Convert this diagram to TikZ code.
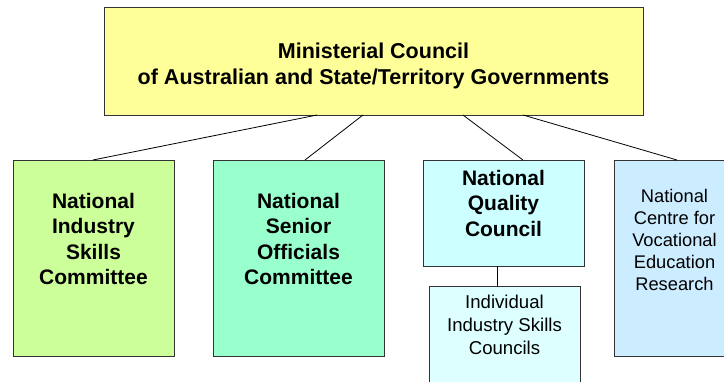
\documentclass[tikz,border=0pt]{standalone}
\usepackage{fontspec}
\setmainfont{Liberation Sans}
\begin{document}
\begin{tikzpicture}[x=1pt,y=-1pt,
  orgbox/.style={draw=black!80,line width=0.9pt},
  link/.style={draw=black,line width=0.8pt},
  toptxt/.style={font=\fontsize{21.5}{26}\selectfont\bfseries,align=center,anchor=north,inner sep=0pt},
  boldtxt/.style={font=\fontsize{21}{25.5}\selectfont\bfseries,align=center,anchor=north,inner sep=0pt},
  regtxt/.style={font=\fontsize{18.3}{22}\selectfont,align=center,anchor=north,inner sep=0pt},
  smalltxt/.style={font=\fontsize{18.6}{23}\selectfont,align=center,anchor=north,inner sep=0pt}]
\definecolor{cyell}{HTML}{FFFF99}
\definecolor{cgreen}{HTML}{CCFF99}
\definecolor{cmint}{HTML}{99FFCC}
\definecolor{ccyan}{HTML}{CCFFFF}
\definecolor{clcyan}{HTML}{DDFFFF}
\definecolor{cblue}{HTML}{CCECFF}
\useasboundingbox (0,0) rectangle (724,381);
% boxes
\draw[orgbox,fill=cyell] (104,7) rectangle (643,115);
\draw[orgbox,fill=cgreen] (13,160) rectangle (174,356);
\draw[orgbox,fill=cmint] (213,160) rectangle (384,356);
\draw[orgbox,fill=ccyan] (423,160) rectangle (584,266);
\draw[orgbox,fill=clcyan] (429,286) rectangle (580,390);
\draw[orgbox,fill=cblue] (614,160) rectangle (740,356);
% anchor coordinates
\coordinate (t1) at (317,115); \coordinate (b1) at (93,160);
\coordinate (t2) at (363,115); \coordinate (b2) at (305,160);
\coordinate (t3) at (463,115); \coordinate (b3) at (523,160);
\coordinate (t4) at (523,115); \coordinate (b4) at (677,160);
\coordinate (q1) at (497,266); \coordinate (q2) at (497,286);
\draw[link] (t1) -- (b1);
\draw[link] (t2) -- (b2);
\draw[link] (t3) -- (b3);
\draw[link] (t4) -- (b4);
\draw[link] (q1) -- (q2);
% texts
\node[toptxt] (mc) at (373.5,43) {Ministerial Council\\of Australian and State/Territory Governments};
\node[boldtxt] (nisc) at (93.5,193) {National\\Industry\\Skills\\Committee};
\node[boldtxt] (nsoc) at (298.5,193) {National\\Senior\\Officials\\Committee};
\node[boldtxt] (nqc) at (503.5,170) {National\\Quality\\Council};
\node[smalltxt] (iisc) at (504.5,295) {Individual\\Industry Skills\\Councils};
\node[regtxt] (ncver) at (674.5,189) {National\\Centre for\\Vocational\\Education\\Research};
\end{tikzpicture}
\end{document}
